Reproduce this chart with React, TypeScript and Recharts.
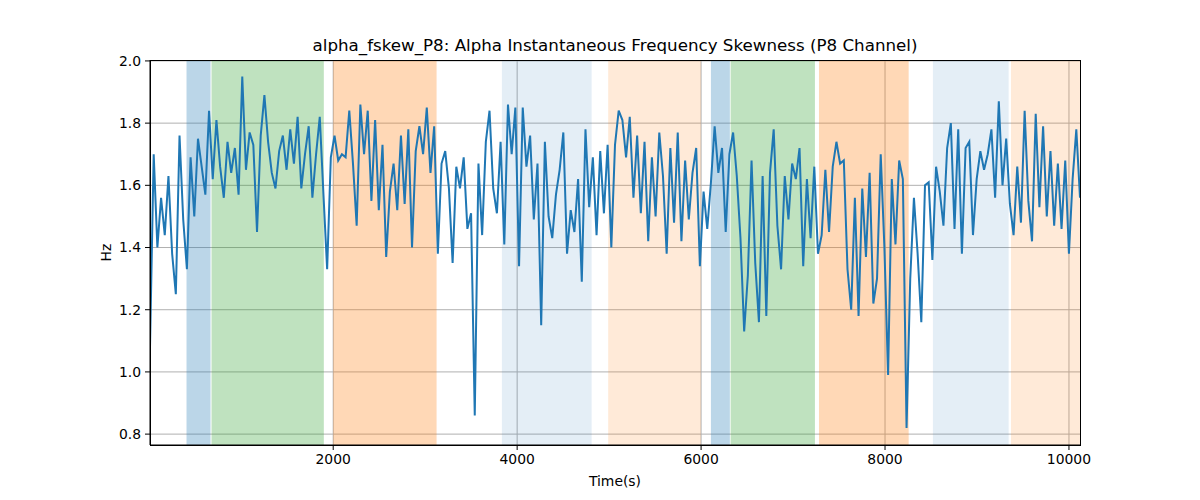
import { LineChart, Line, XAxis, YAxis, CartesianGrid, ReferenceArea } from "recharts";

// sampling of the recording (seconds)
const tStart = 8;
const tStep = 40.127;

// alpha skewness
const skew = [
    1.08, 1.70, 1.40, 1.56, 1.44, 1.63, 1.38, 1.25, 1.76, 1.49,
    1.33, 1.69, 1.50, 1.75, 1.66, 1.57, 1.84, 1.62, 1.81, 1.66,
    1.56, 1.74, 1.64, 1.72, 1.57, 1.95, 1.65, 1.77, 1.73, 1.45,
    1.76, 1.89, 1.74, 1.64, 1.59, 1.71, 1.76, 1.65, 1.78, 1.67,
    1.82, 1.59, 1.70, 1.79, 1.56, 1.70, 1.82, 1.57, 1.33, 1.69,
    1.76, 1.68, 1.70, 1.69, 1.84, 1.67, 1.47, 1.86, 1.70, 1.84,
    1.55, 1.81, 1.52, 1.73, 1.37,
    1.58, 1.67, 1.52, 1.76, 1.54, 1.78, 1.40, 1.71, 1.79, 1.70,
    1.85, 1.64, 1.79, 1.38, 1.67, 1.71, 1.59, 1.35, 1.66, 1.59,
    1.69, 1.46, 1.51, 0.86, 1.67, 1.44, 1.74, 1.84, 1.59, 1.51,
    1.74, 1.41, 1.86, 1.70, 1.85, 1.34, 1.85, 1.66, 1.76, 1.49,
    1.67, 1.15, 1.74, 1.50, 1.43, 1.57, 1.65, 1.77, 1.38, 1.52,
    1.45, 1.62, 1.29, 1.78, 1.53, 1.69, 1.44, 1.71, 1.51, 1.73,
    1.40, 1.73, 1.84,
    1.81, 1.69, 1.82, 1.56, 1.76, 1.51, 1.74, 1.42, 1.69, 1.50,
    1.77, 1.63, 1.38, 1.72, 1.48, 1.77, 1.42, 1.68, 1.49, 1.64,
    1.72, 1.34, 1.58, 1.46, 1.61, 1.79, 1.64, 1.72, 1.45, 1.70,
    1.77, 1.63, 1.43, 1.13, 1.31, 1.68, 1.35, 1.16, 1.63, 1.18,
    1.64, 1.78, 1.47, 1.33, 1.63, 1.49, 1.67, 1.62, 1.72, 1.34,
    1.62, 1.43, 1.66, 1.38, 1.44, 1.65, 1.45, 1.66, 1.74, 1.67,
    1.68, 1.33, 1.20, 1.56,
    1.18, 1.59, 1.37, 1.64, 1.22, 1.30, 1.70, 1.40, 0.99, 1.62,
    1.41, 1.68, 1.62, 0.82, 1.30, 1.56, 1.38, 1.16, 1.60, 1.61,
    1.36, 1.66, 1.58, 1.47, 1.72, 1.80, 1.46, 1.78, 1.38, 1.72,
    1.74, 1.44, 1.62, 1.71, 1.65, 1.70, 1.78, 1.56, 1.87, 1.60,
    1.75, 1.54, 1.44, 1.66, 1.48, 1.84, 1.55, 1.42, 1.83, 1.53,
    1.79, 1.50, 1.71, 1.47, 1.67, 1.46, 1.68, 1.38, 1.62, 1.78, 1.56,
];

const xTicks = [2000, 4000, 6000, 8000, 10000];
const yTicks = [0.8, 1.0, 1.2, 1.4, 1.6, 1.8, 2.0];

// shaded stages
const spanStart = [405, 677, 2000, 3834, 4990, 6107, 6321, 7282, 8521, 9370];
const spanEnd = [666, 1898, 3124, 4810, 5999, 6313, 7238, 8257, 9344, 10120];
const spanKind = ["blue", "green", "orange", "paleBlue", "paleOrange", "blue", "green", "orange", "paleBlue", "paleOrange"];

const spanStyle: Record<string, { fill: string; opacity: number }> = {
    blue: { fill: "#1f77b4", opacity: 0.3 },
    green: { fill: "#2ca02c", opacity: 0.3 },
    orange: { fill: "#ff7f0e", opacity: 0.3 },
    paleBlue: { fill: "#1f77b4", opacity: 0.12 },
    paleOrange: { fill: "#ff7f0e", opacity: 0.16 },
};

const data = skew.map((v, i) => ({ t: tStart + i * tStep, hz: v }));

const font = "'DejaVu Sans', sans-serif";
const tickStyle = { fill: "#000", fontSize: 13.9, fontFamily: font };

export default function App() {
    return (
        <div style={{ position: "absolute", left: 0, top: 0, width: 1200, height: 500, background: "#fff" }}>
            <div
                style={{
                    position: "absolute",
                    left: 150,
                    width: 930,
                    top: 35,
                    textAlign: "center",
                    fontFamily: font,
                    fontSize: 16.7,
                    lineHeight: "20px",
                    color: "#000",
                }}
            >
                alpha_fskew_P8: Alpha Instantaneous Frequency Skewness (P8 Channel)
            </div>
            <LineChart width={1200} height={500} data={data} margin={{ top: 60, right: 120, bottom: 0, left: 0 }}>
                {spanStart.map((s, i) => (
                    <ReferenceArea
                        key={i}
                        x1={s}
                        x2={spanEnd[i]}
                        fill={spanStyle[spanKind[i]].fill}
                        fillOpacity={spanStyle[spanKind[i]].opacity}
                        stroke="none"
                        ifOverflow="hidden"
                    />
                ))}
                <CartesianGrid stroke="#b0b0b0" strokeWidth={1} horizontalValues={yTicks} verticalValues={xTicks} />
                <XAxis
                    dataKey="t"
                    type="number"
                    domain={[tStart, 10120]}
                    allowDataOverflow
                    ticks={xTicks}
                    height={55}
                    tick={tickStyle}
                    tickSize={5}
                    tickMargin={4}
                    stroke="#000"
                    tickLine={{ stroke: "#000" }}
                    axisLine={{ stroke: "#000" }}
                    label={{ value: "Time(s)", position: "center", dy: 9, fill: "#000", fontSize: 13.9, fontFamily: font }}
                />
                <YAxis
                    type="number"
                    domain={[0.765, 2.003]}
                    allowDataOverflow
                    ticks={yTicks}
                    width={150}
                    tick={tickStyle}
                    tickSize={5}
                    tickMargin={4}
                    tickFormatter={(v: number) => v.toFixed(1)}
                    tickLine={{ stroke: "#000" }}
                    axisLine={{ stroke: "#000" }}
                    label={{ value: "Hz", angle: -90, position: "center", dx: 31, fill: "#000", fontSize: 13.9, fontFamily: font }}
                />
                <Line
                    type="linear"
                    dataKey="hz"
                    stroke="#1f77b4"
                    strokeWidth={2}
                    dot={false}
                    isAnimationActive={false}
                />
            </LineChart>
            {/* axes frame (top and right spines) */}
            <div
                style={{
                    position: "absolute",
                    left: 150,
                    top: 60,
                    width: 931,
                    height: 386,
                    boxSizing: "border-box",
                    border: "1px solid #000",
                    pointerEvents: "none",
                }}
            />
        </div>
    );
}
